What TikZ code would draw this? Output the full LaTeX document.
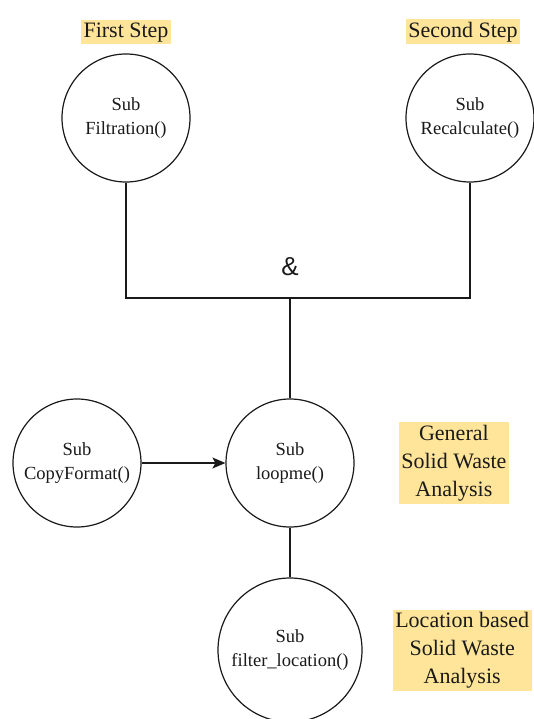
\documentclass[tikz,border=0pt]{standalone}
\usepackage{fontspec}
\setmainfont{Liberation Serif}
\newfontfamily\ampfont{Liberation Sans}
\usepackage{xcolor}
\usetikzlibrary{arrows.meta,positioning}
\definecolor{SoftGold}{HTML}{FFE599}
\definecolor{InkGray}{HTML}{1A1A1A}
\tikzset{
  subcircle/.style={circle,draw=InkGray,line width=1.2pt,fill=white,align=center,
              minimum size=128pt,inner sep=0pt,text=InkGray,
              font=\fontsize{18.5pt}{24pt}\selectfont},
  steplabel/.style={fill=SoftGold,align=center,inner sep=2.5pt,text=InkGray,
              font=\fontsize{22pt}{28pt}\selectfont},
  link/.style={line width=1.2pt,draw=InkGray},
  flow/.style={-{Stealth[length=13pt,width=11pt,inset=3pt]},line width=1.2pt,draw=InkGray},
  amp/.style={font=\ampfont\fontsize{26pt}{30pt}\selectfont,text=InkGray,inner sep=0pt}
}
\begin{document}
\begin{tikzpicture}[x=1pt,y=-1pt,node distance=9pt and 44pt]
  \useasboundingbox (0,0) rectangle (534,719);
  \node[subcircle] (filt) at (126,118) {Sub\\Filtration()};
  \node[subcircle] (recalc) at (470,118) {Sub\\Recalculate()};
  \node[subcircle] (copy) at (77,463) {Sub\\CopyFormat()};
  \node[subcircle] (loop) at (290,463) {Sub\\loopme()};
  \node[subcircle,minimum size=144pt] (filter) at (290,650) {Sub\\filter\_location()};

  \node[steplabel,above=of filt] (first) {First Step};
  \node[steplabel,above=of recalc,xshift=-7pt] (second) {Second Step};
  \node[steplabel,right=of loop] (general) {General\\Solid Waste\\Analysis};
  \node[steplabel,right=30pt of filter] (location) {Location based\\Solid Waste\\Analysis};

  \coordinate (join) at (290,298);
  \node[amp] (and) at (290,267) {\&};

  \draw[link] (filt.south) |- (join) -| (recalc.south);
  \draw[link] (join) -- (loop.north);
  \draw[flow] (copy) -- (loop);
  \draw[link] (loop) -- (filter);
\end{tikzpicture}
\end{document}
